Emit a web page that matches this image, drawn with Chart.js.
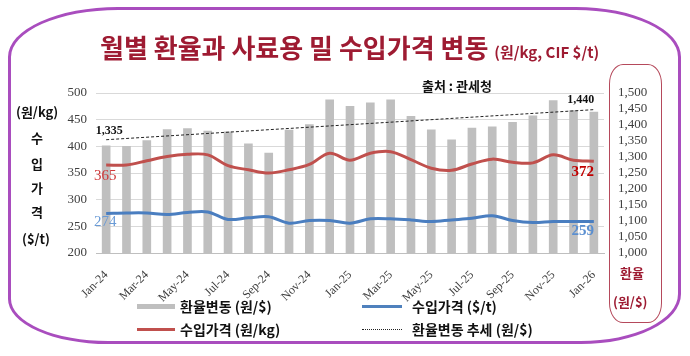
<!DOCTYPE html>
<html><head><meta charset="utf-8">
<script src="https://cdn.jsdelivr.net/npm/chart.js@4/dist/chart.umd.min.js"></script>
<style>
body{margin:0;width:690px;height:356px;position:relative;background:#fff;overflow:hidden;font-family:"Noto Sans CJK KR",sans-serif}
#c{position:absolute;left:0;top:0}
.t{position:absolute;white-space:nowrap;font-weight:bold}
#frame{position:absolute;left:8px;top:7px;width:667px;height:331px;border:3px solid #A94DBE;border-radius:110px 105px 100px 100px / 50px 50px 50px 45px}
#rbox{position:absolute;left:609px;top:64px;width:51px;height:257px;border:1px solid #B5495B;border-radius:14px/20px}
</style></head>
<body>
<div id="frame"></div>
<div id="rbox"></div>
<canvas id="c" width="690" height="356"></canvas>
<div class="t" style="left:100px;top:30px;font-size:26px;color:#9E1B32;line-height:34px">월별 환율과 사료용 밀 수입가격 변동 <span style="font-size:15px">(원/kg, CIF $/t)</span></div>
<div class="t" style="left:422px;top:77px;font-size:13px;color:#111;line-height:18px">출처 : 관세청</div>
<div class="t" style="left:16px;top:103px;font-size:13px;color:#111;line-height:18px">(원/kg)</div>
<div class="t" style="left:31px;top:129px;font-size:13px;color:#111;line-height:18px">수</div>
<div class="t" style="left:31px;top:155px;font-size:13px;color:#111;line-height:18px">입</div>
<div class="t" style="left:31px;top:179px;font-size:13px;color:#111;line-height:18px">가</div>
<div class="t" style="left:31px;top:203px;font-size:13px;color:#111;line-height:18px">격</div>
<div class="t" style="left:22px;top:230px;font-size:13px;color:#111;line-height:18px">($/t)</div>
<div class="t" style="left:620px;top:264px;font-size:13px;color:#9E1B32;line-height:18px">환율</div>
<div class="t" style="left:613px;top:293px;font-size:13px;color:#9E1B32;line-height:18px">(원/$)</div>
<div style="position:absolute;left:137px;top:304px;width:38px;height:5px;background:#BFBFBF"></div>
<div class="t" style="left:180px;top:297px;font-size:14px;color:#111;line-height:18px">환율변동 (원/$)</div>
<div style="position:absolute;left:137px;top:328px;width:38px;height:3px;background:#C0504D"></div>
<div class="t" style="left:180px;top:320px;font-size:14px;color:#111;line-height:18px">수입가격 (원/kg)</div>
<div style="position:absolute;left:362px;top:305px;width:40px;height:3px;background:#4F81BD"></div>
<div class="t" style="left:412px;top:297px;font-size:14px;color:#111;line-height:18px">수입가격 ($/t)</div>
<div style="position:absolute;left:362px;top:329px;width:40px;height:0;border-top:1px dotted #222"></div>
<div class="t" style="left:412px;top:320px;font-size:14px;color:#111;line-height:18px">환율변동 추세 (원/$)</div>
<script>
const months = ['Jan-24','Feb-24','Mar-24','Apr-24','May-24','Jun-24','Jul-24','Aug-24','Sep-24','Oct-24','Nov-24','Dec-24',
  'Jan-25','Feb-25','Mar-25','Apr-25','May-25','Jun-25','Jul-25','Aug-25','Sep-25','Oct-25','Nov-25','Dec-25','Jan-26'];
const exchangeRate = [1335,1333,1351,1386,1389,1381,1379,1341,1312,1384,1401,1479,
  1458,1469,1479,1427,1385,1354,1390,1394,1408,1429,1476,1445,1440];
const importPriceWonKg = [365,365,373,381,385,384,364,356,350,356,366,387,
  374,387,390,375,359,355,367,376,370,369,384,374,372];
const importPriceUsdT = [274,275,275,272,276,277,263,266,268,256,261,261,
  256,264,264,262,259,262,265,270,261,257,259,259,259];
const trendStartEnd = [1354,1448];
const leftTicks = {min:200,max:500,step:50};
const rightTicks = {min:1000,max:1500,step:50};

const trendData = months.map((m,i)=> i===0 ? trendStartEnd[0] : (i===months.length-1 ? trendStartEnd[1] : null));
const fmt = v => v.toLocaleString('en-US');
const serif = '"Liberation Serif","Times New Roman",serif';

const labelPlugin = {
  id:'labels',
  afterDatasetsDraw(chart){
    const ctx = chart.ctx, x = chart.scales.x, y = chart.scales.y, y2 = chart.scales.y2;
    const n = months.length-1;
    const put = (txt, px, py, font, color) => {
      ctx.save(); ctx.font = font; ctx.fillStyle = color; ctx.textAlign='center'; ctx.textBaseline='middle';
      ctx.fillText(txt, px, py); ctx.restore();
    };
    put(fmt(exchangeRate[0]), x.getPixelForValue(0)+3, y2.getPixelForValue(exchangeRate[0])-15, 'bold 12px '+serif, '#111');
    put(fmt(exchangeRate[n]), x.getPixelForValue(n)-13, y2.getPixelForValue(exchangeRate[n])-12, 'bold 12px '+serif, '#111');
    put(String(importPriceWonKg[0]), x.getPixelForValue(0)-1, y.getPixelForValue(importPriceWonKg[0])+11, '15px '+serif, '#D0393A');
    put(String(importPriceUsdT[0]), x.getPixelForValue(0)-1, y.getPixelForValue(importPriceUsdT[0])+9, '15px '+serif, '#6A9BD6');
    put(String(importPriceWonKg[n]), x.getPixelForValue(n)-11, y.getPixelForValue(importPriceWonKg[n])+11, 'bold 15px '+serif, '#C00000');
    put(String(importPriceUsdT[n]), x.getPixelForValue(n)-11, y.getPixelForValue(importPriceUsdT[n])+10, 'bold 15px '+serif, '#5B8FD0');
  }
};

new Chart(document.getElementById('c'), {
  data:{
    labels: months,
    datasets:[
      {type:'line', label:'환율변동 추세 (원/$)', data:trendData, yAxisID:'y2', borderColor:'#222', borderWidth:1, borderDash:[3,2], pointRadius:0, spanGaps:true, order:0},
      {type:'line', label:'수입가격 (원/kg)', data:importPriceWonKg, yAxisID:'y', borderColor:'#C0504D', borderWidth:3, pointRadius:0, tension:0.35, order:1},
      {type:'line', label:'수입가격 ($/t)', data:importPriceUsdT, yAxisID:'y', borderColor:'#4A7EC0', borderWidth:3, pointRadius:0, tension:0.35, order:2},
      {type:'bar', label:'환율변동 (원/$)', data:exchangeRate, yAxisID:'y2', backgroundColor:'#BFBFBF', barThickness:8, order:3}
    ]
  },
  options:{
    responsive:false, animation:false, devicePixelRatio:1,
    layout:{padding:{top:93,left:0,right:0,bottom:0}},
    plugins:{legend:{display:false}, tooltip:{enabled:false}},
    scales:{
      x:{type:'category', offset:true, grid:{display:false}, border:{display:true,color:'#BFBFBF'},
         ticks:{autoSkip:false, minRotation:45, maxRotation:45, padding:7, color:'#404040', font:{family:serif,size:12},
           callback:(v,i)=> i%2===0 ? months[i] : ''},
         afterFit:s=>{s.height=103;}},
      y:{position:'left', min:leftTicks.min, max:leftTicks.max, grid:{color:'#D9D9D9', drawTicks:false}, border:{display:false},
         ticks:{stepSize:leftTicks.step, autoSkip:false, padding:9, color:'#404040', font:{family:serif,size:13}},
         afterFit:s=>{s.width=96;}},
      y2:{position:'right', min:rightTicks.min, max:rightTicks.max, grid:{display:false, drawTicks:false}, border:{display:false},
         ticks:{stepSize:rightTicks.step, autoSkip:false, maxTicksLimit:20, padding:14, color:'#404040', font:{family:serif,size:13,lineHeight:1}, callback:v=>fmt(v)},
         afterFit:s=>{s.width=86;}}
    }
  },
  plugins:[labelPlugin]
});
</script>
</body></html>
